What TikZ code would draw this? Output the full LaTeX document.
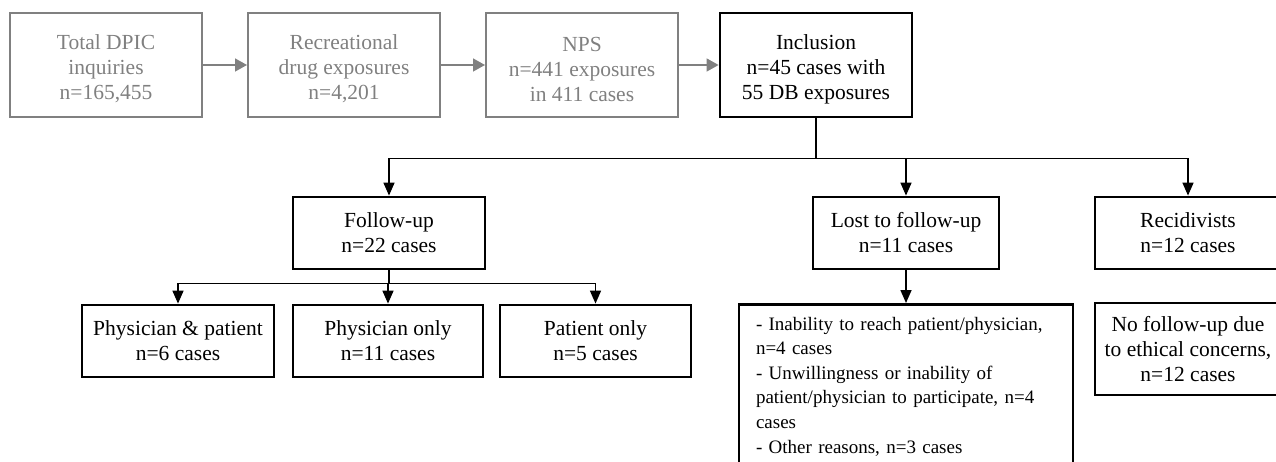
\documentclass[tikz,border=0pt]{standalone}
\usepackage{fontspec}
\setmainfont{Liberation Serif}
\usetikzlibrary{arrows.meta}
\definecolor{boxgrey}{RGB}{128,128,128}
\newcommand{\toppad}{\rule{0pt}{23pt}}

\tikzset{
  every node/.style={font=\fontsize{21.5pt}{25pt}\selectfont, inner sep=0pt},
  toprow/.style={minimum width=192pt, minimum height=104pt, align=center},
  greybox/.style={toprow, draw=boxgrey, text=boxgrey, line width=2pt},
  mainbox/.style={draw=black, line width=2.8pt, align=center},
  greylink/.style={draw=boxgrey, line width=1.5pt, -{Triangle[width=13pt,length=12pt]}},
  link/.style={line width=1.5pt, -{Triangle[width=11pt,length=13pt]}},
}

\begin{document}
\begin{tikzpicture}[x=1pt,y=-1pt]
    \clip (0,0) rectangle (1276,462);
    \node[greybox] (dpic) at (106,65) {\toppad Total DPIC\\inquiries\\n=165,455};
    \node[greybox] (recr) at (344,65) {\toppad Recreational\\drug exposures\\n=4,201};
    \node[greybox] (nps) at (582,65) {\toppad NPS\\n=441 exposures\\in 411 cases};
    \node[mainbox, toprow] (incl) at (816,65) {\toppad Inclusion\\n=45 cases with\\55 DB exposures};
    \node[mainbox, minimum width=192pt, minimum height=72pt] (follow) at (389,233) {Follow-up\\n=22 cases};
    \node[mainbox, minimum width=186pt, minimum height=72pt] (lost) at (906,233) {Lost to follow-up\\n=11 cases};
    \node[mainbox, minimum width=186pt, minimum height=72pt] (recid) at (1188,233) {Recidivists\\n=12 cases};
    \node[mainbox, minimum width=192pt, minimum height=72pt] (both) at (178,341) {Physician \& patient\\n=6 cases};
    \node[mainbox, minimum width=190pt, minimum height=72pt] (phys) at (388,341) {Physician only\\n=11 cases};
    \node[mainbox, minimum width=191pt, minimum height=72pt] (pat) at (595.5,341) {Patient only\\n=5 cases};
    \node[mainbox, anchor=north, align=left, font=\fontsize{19pt}{24.6pt}\selectfont, text width=300pt, inner xsep=17pt, inner ysep=4pt, minimum height=164pt] (reasons) at (906,303)
      {\hyphenpenalty=10000 - Inability to reach patient/physician,\\n=4 cases\\- Unwillingness or inability of\\patient/physician to participate, n=4\\cases\\- Other reasons, n=3 cases};
    \node[mainbox, minimum width=186pt, minimum height=92pt] (nofu) at (1188,349) {No follow-up due\\to ethical concerns,\\n=12 cases};

    \draw[greylink] (dpic) -- (recr);
    \draw[greylink] (recr) -- (nps);
    \draw[greylink] (nps) -- (incl);

    \draw[line width=1.5pt] (incl.south) -- ++(0,40) coordinate (split);
    \draw[link] (split) -| (follow.north);
    \draw[link] (split) -| (lost.north);
    \draw[link] (split) -| (recid.north);

    \draw[line width=1.5pt] (follow.south) -- ++(0,13) coordinate (subsplit);
    \draw[link] (subsplit) -| (both.north);
    \draw[link] (subsplit) -| (phys.north);
    \draw[link] (subsplit) -| (pat.north);

    \draw[link] (lost) -- (reasons);
\end{tikzpicture}
\end{document}
